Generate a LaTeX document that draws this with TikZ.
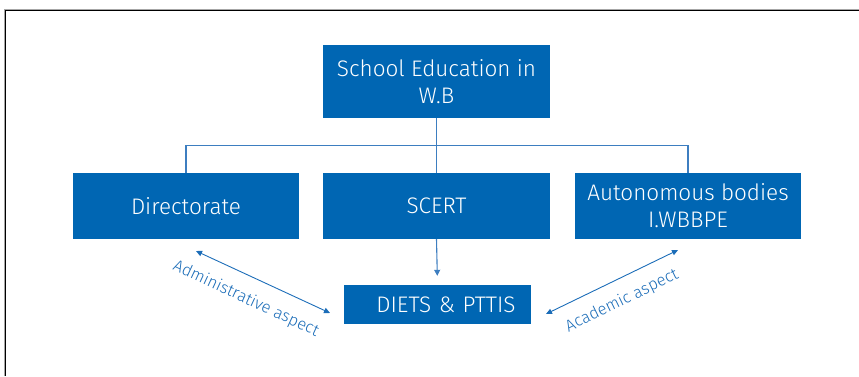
\documentclass[tikz,border=0pt]{standalone}
\usepackage{fontspec}
\setmainfont{Fira Sans}[UprightFont=* Light]
\usetikzlibrary{arrows.meta}
\definecolor{boxblue}{HTML}{0066B3}
\definecolor{lineblue}{HTML}{3D7EC0}
\definecolor{labelblue}{HTML}{1C6DB8}
\tikzset{
  orgbox/.style={fill=boxblue, text=white, inner sep=0pt, align=center,
    font=\fontsize{22.5}{27}\selectfont},
  bus/.style={draw=lineblue, line width=1.1pt},
  dbl/.style={draw=labelblue, line width=0.9pt,
    {Triangle[length=6pt,width=5.5pt]}-{Triangle[length=6pt,width=5.5pt]}},
  aspect/.style={text=labelblue, font=\fontsize{16.5}{19}\selectfont, inner sep=0pt}
}
\begin{document}
\begin{tikzpicture}[x=1pt,y=-1pt]
  \useasboundingbox (0,0) rectangle (859,376);
  % page frame
  \draw[gray!70, line width=1pt] (4,376) -- (4,9) -- (859,9);
  \draw[black, line width=1pt] (5.5,376) -- (5.5,10.5) -- (859,10.5);

  % boxes
  \node[orgbox, minimum width=227pt, minimum height=73pt] (top) at (436.5,81.5)
    {School Education in\\W.B};
  \node[orgbox, minimum width=226pt, minimum height=66pt] (dir) at (186,206)
    {Directorate};
  \node[orgbox, minimum width=227pt, minimum height=66pt] (scert) at (436.5,206)
    {SCERT};
  \node[orgbox, minimum width=226pt, minimum height=66pt] (auto) at (688,206)
    {Autonomous bodies\\I.WBBPE};
  \node[orgbox, minimum width=187pt, minimum height=39pt, text width=187pt] (diets) at (437.5,304.5)
    {\hspace*{17pt}DIETS \& PTTIS};

  % tree connectors
  \draw[bus] (top.south) -- (scert.north);
  \draw[bus] (dir.north) -- ++(0,-27) -| (auto.north);
  \draw[draw=lineblue, line width=1.1pt, -{Triangle[length=6pt,width=6pt]}, shorten >=9pt]
    (scert.south) -- (diets.north);

  % aspect arrows
  \coordinate (a1) at (196,251);
  \coordinate (a2) at (330,313);
  \coordinate (b1) at (546,314);
  \coordinate (b2) at (678,250);
  \draw[dbl] (a1) -- (a2);
  \draw[dbl] (b1) -- (b2);
  \node[aspect, rotate=-25] (adm) at (246,299) {Administrative aspect};
  \node[aspect, rotate=26] (acad) at (622,301) {Academic aspect};
\end{tikzpicture}
\end{document}
